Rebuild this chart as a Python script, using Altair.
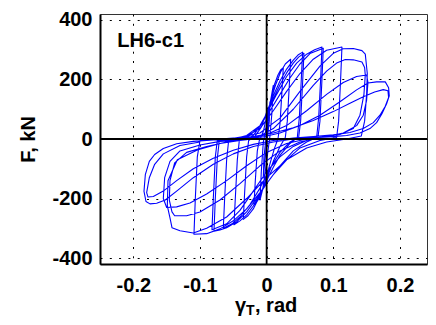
import altair as alt
import pandas as pd

# ---- hysteresis cycles (gamma_T in rad, F in kN) ----
c01_g = [0.0, 0.003, 0.005, 0.004, 0.001, -0.002, -0.004, -0.005, -0.004, -0.001]
c01_f = [0, 80, 125, 60, 0, -60, -105, -130, -60, 0]

c02_g = [-0.001, 0.002, 0.006, 0.010, 0.008, 0.005, 0.002, -0.002, -0.006, -0.010, -0.008, -0.005]
c02_f = [0, 60, 130, 180, 90, 10, -40, -110, -170, -205, -110, -10]

c03_g = [-0.005, -0.002, 0.002, 0.007, 0.012, 0.017, 0.021, 0.025, 0.023, 0.020, 0.017, 0.012,
         0.006, 0.0, -0.005, -0.010, -0.015, -0.019, -0.017, -0.014, -0.011]
c03_f = [-10, 20, 80, 140, 185, 215, 232, 240, 160, 50, 0, -30,
         -75, -125, -165, -195, -212, -221, -140, -40, -5]

c04_g = [-0.011, -0.005, 0.0, 0.007, 0.014, 0.021, 0.028, 0.036, 0.034, 0.031, 0.028, 0.020,
         0.010, 0.0, -0.010, -0.020, -0.028, -0.035, -0.033, -0.030, -0.027]
c04_f = [-5, 25, 75, 135, 185, 225, 252, 268, 180, 60, 5, -25,
         -75, -135, -190, -235, -258, -270, -180, -60, -5]

c05_g = [-0.027, -0.018, -0.008, 0.0, 0.010, 0.020, 0.030, 0.040, 0.047, 0.054, 0.052, 0.049, 0.046,
         0.035, 0.020, 0.010, 0.0, -0.010, -0.020, -0.030, -0.040, -0.049, -0.047, -0.044, -0.041]
c05_f = [-5, 8, 40, 90, 145, 195, 235, 265, 282, 292, 200, 70, 5,
         -15, -55, -95, -140, -185, -225, -255, -275, -288, -200, -70, -5]

c06_g = [-0.041, -0.030, -0.020, -0.010, 0.0, 0.010, 0.020, 0.030, 0.040, 0.048, 0.056, 0.054, 0.051,
         0.048, 0.035, 0.020, 0.005, -0.010, -0.025, -0.040, -0.052, -0.065, -0.063, -0.060, -0.057]
c06_f = [-5, 0, 12, 42, 85, 135, 182, 222, 255, 275, 288, 190, 60,
         5, -10, -45, -100, -165, -220, -262, -285, -300, -200, -70, -5]

c07_g = [-0.057, -0.040, -0.025, -0.010, 0.0, 0.015, 0.030, 0.045, 0.060, 0.072, 0.083, 0.081, 0.078,
         0.075, 0.060, 0.040, 0.020, 0.0, -0.015, -0.030, -0.045, -0.060, -0.070, -0.079, -0.077,
         -0.074, -0.071]
c07_f = [-5, 0, 12, 45, 85, 150, 210, 255, 285, 300, 309, 200, 70,
         5, -10, -40, -90, -150, -200, -245, -278, -298, -306, -310, -200,
         -65, -5]

c08_g = [-0.071, -0.050, -0.030, -0.010, 0.005, 0.020, 0.035, 0.050, 0.065, 0.085, 0.083, 0.080,
         0.077, 0.060, 0.040, 0.020, 0.0, -0.020, -0.040, -0.060, -0.082, -0.080, -0.077, -0.074]
c08_f = [-5, 0, 12, 45, 95, 150, 205, 252, 287, 305, 200, 60,
         5, -5, -25, -60, -110, -175, -240, -285, -305, -200, -60, -5]

c09_g = [-0.074, -0.050, -0.030, -0.010, 0.010, 0.030, 0.050, 0.070, 0.090, 0.113, 0.111, 0.108,
         0.105, 0.080, 0.050, 0.030, 0.010, -0.010, -0.030, -0.050, -0.070, -0.090, -0.109, -0.107,
         -0.104, -0.100]
c09_f = [-5, 2, 10, 35, 95, 160, 220, 268, 298, 309, 200, 60,
         5, -5, -30, -70, -120, -180, -235, -275, -302, -318, -320, -200,
         -60, -5]

c10_g = [-0.100, -0.070, -0.040, -0.010, 0.020, 0.050, 0.080, 0.100, 0.115, 0.130, 0.143, 0.148,
         0.151, 0.150, 0.147, 0.142, 0.120, 0.090, 0.060, 0.030, 0.0, -0.030, -0.060, -0.090,
         -0.110, -0.130, -0.142, -0.145, -0.149, -0.148, -0.134, -0.104, -0.070, -0.040]
c10_f = [-5, 0, 5, 20, 70, 160, 245, 288, 303, 304, 297, 285,
         220, 150, 60, 10, 0, -10, -30, -70, -130, -200, -262, -300,
         -316, -308, -298, -265, -225, -140, -70, -37, -15, -5]

c11_g = [-0.040, -0.010, 0.010, 0.040, 0.070, 0.090, 0.105, 0.118, 0.130, 0.143, 0.147, 0.148,
         0.146, 0.140, 0.130, 0.110, 0.080, 0.050, 0.020, -0.010, -0.040, -0.070, -0.100, -0.120,
         -0.138, -0.142, -0.146, -0.145, -0.138, -0.120, -0.090, -0.060]
c11_f = [-5, 10, 35, 100, 180, 228, 255, 267, 266, 259, 240, 215,
         150, 80, 35, 15, 5, -10, -40, -90, -150, -205, -245, -258,
         -258, -245, -205, -140, -80, -45, -25, -10]

c12_g = [-0.060, -0.030, 0.0, 0.030, 0.060, 0.090, 0.115, 0.135, 0.150, 0.152, 0.150, 0.145,
         0.135, 0.115, 0.090, 0.060, 0.030, 0.0, -0.030, -0.060, -0.090, -0.115, -0.135, -0.150,
         -0.155, -0.153, -0.145, -0.130, -0.100, -0.070]
c12_f = [-10, -2, 15, 45, 95, 150, 190, 210, 215, 190, 130, 80,
         45, 20, 8, 0, -15, -45, -90, -140, -185, -215, -228, -230,
         -200, -130, -75, -40, -20, -8]

c13_g = [-0.070, -0.040, -0.010, 0.020, 0.050, 0.080, 0.110, 0.135, 0.152, 0.165, 0.178, 0.183,
         0.184, 0.180, 0.173, 0.165, 0.155, 0.140, 0.120, 0.100, 0.070, 0.040, 0.010, -0.020,
         -0.050, -0.080, -0.110, -0.135, -0.152, -0.165, -0.175, -0.181, -0.184, -0.182, -0.176,
         -0.168, -0.155, -0.135, -0.110, -0.080]
c13_f = [-8, -3, 5, 20, 45, 80, 125, 165, 188, 192, 192, 172,
         145, 118, 85, 55, 35, 20, 12, 8, 4, 0, -10, -25,
         -50, -85, -130, -175, -205, -216, -218, -210, -176, -120, -75,
         -52, -32, -16, -8, -3]

c14_g = [-0.080, -0.050, -0.020, 0.010, 0.040, 0.070, 0.100, 0.125, 0.145, 0.162, 0.175, 0.182,
         0.183, 0.178, 0.170, 0.160, 0.145, 0.125, 0.100, 0.070, 0.040, 0.010, -0.020, -0.050,
         -0.080, -0.110, -0.135, -0.155, -0.170, -0.178, -0.180, -0.176, -0.168, -0.155, -0.130,
         -0.100]
c14_f = [-3, 0, 8, 20, 38, 62, 92, 120, 142, 158, 166, 162,
         140, 110, 80, 55, 35, 22, 14, 8, 3, -5, -18, -38,
         -65, -100, -140, -175, -193, -195, -180, -130, -85, -50, -22,
         -10]

cycles = [(c01_g, c01_f), (c02_g, c02_f), (c03_g, c03_f), (c04_g, c04_f), (c05_g, c05_f),
          (c06_g, c06_f), (c07_g, c07_f), (c08_g, c08_f), (c09_g, c09_f), (c10_g, c10_f),
          (c11_g, c11_f), (c12_g, c12_f), (c13_g, c13_f), (c14_g, c14_f)]

x_ticks = [-0.2, -0.1, 0.0, 0.1, 0.2]
y_ticks = [-400, -200, 0, 200, 400]
specimen_label = ["LH6-c1"]
specimen_gamma = [-0.224]
specimen_force = [308]

rows = []
k = 0
for gs, fs in cycles:
    for g, f in zip(gs, fs):
        rows.append({"gamma": g, "force": f, "step": k})
        k += 1
df = pd.DataFrame(rows)

FONT = "Liberation Sans"
xs = alt.Scale(domain=[-0.25, 0.2406], nice=False, zero=False)
ys = alt.Scale(domain=[-420, 420], nice=False, zero=False)

x_axis = alt.Axis(values=x_ticks, title=None, grid=True, gridColor="black", gridDash=[2, 7.3],
                  gridWidth=1, ticks=False, labelPadding=11, domainColor="black", domainWidth=2,
                  labelFont=FONT, labelFontSize=20, labelFontWeight="bold", labelColor="black",
                  labelExpr="datum.value == 0 ? '0' : (datum.value < 0 ? '-' : '') + format(abs(datum.value), '.1f')")
y_axis = alt.Axis(values=y_ticks, title="F, kN", grid=True, gridColor="black", gridDash=[2, 7.3],
                  gridWidth=1, ticks=False, labelPadding=8, domainColor="black", domainWidth=2,
                  labelFont=FONT, labelFontSize=20, labelFontWeight="bold", labelColor="black",
                  labelExpr="datum.value == 0 ? '0' : (datum.value < 0 ? '-' : '') + format(abs(datum.value), 'd')",
                  titleFont=FONT, titleFontSize=20, titleFontWeight="bold", titleColor="black",
                  titleAngle=270, titleX=-66, titleY=125, titleBaseline="alphabetic", titleAlign="center")

X = alt.X("gamma:Q", scale=xs, axis=x_axis)
Y = alt.Y("force:Q", scale=ys, axis=y_axis)

lines = alt.Chart(df).mark_line(color="#0000ff", strokeWidth=1.1, strokeJoin="round").encode(
    x=X, y=Y, order="step:Q",
)

zero_df = pd.DataFrame({"gamma": [0.0], "force": [0.0]})
zero_v = alt.Chart(zero_df).mark_rule(color="black", strokeWidth=1.8).encode(x=X)
zero_h = alt.Chart(zero_df).mark_rule(color="black", strokeWidth=1.8).encode(y=Y)

lab_df = pd.DataFrame({"t": specimen_label, "gamma": specimen_gamma, "force": specimen_force})
spec = alt.Chart(lab_df).mark_text(font=FONT, fontSize=20, fontWeight="bold", color="black",
                                   align="left", baseline="alphabetic").encode(
    x=X, y=Y, text="t:N")

tdf = pd.DataFrame({"a": ["γ"], "b": ["T"], "c": [", rad"]})
t1 = alt.Chart(tdf).mark_text(font=FONT, fontSize=20, fontWeight="bold", color="black",
                              align="right", baseline="alphabetic").encode(
    x=alt.value(146), y=alt.value(298), text="a:N")
t2 = alt.Chart(tdf).mark_text(font=FONT, fontSize=14, fontWeight="bold", color="black",
                              align="left", baseline="alphabetic").encode(
    x=alt.value(146), y=alt.value(301), text="b:N")
t3 = alt.Chart(tdf).mark_text(font=FONT, fontSize=20, fontWeight="bold", color="black",
                              align="left", baseline="alphabetic").encode(
    x=alt.value(155), y=alt.value(298), text="c:N")

chart = alt.layer(lines, zero_v, zero_h, spec, t1, t2, t3).properties(
    width=327, height=250,
    autosize=alt.AutoSizeParams(type="none"),
    padding={"left": 92, "top": 6, "right": 1, "bottom": 53},
).configure_view(stroke="#333333", strokeWidth=1)

chart.save("out.html", embed_options={"renderer": "svg", "actions": False})
